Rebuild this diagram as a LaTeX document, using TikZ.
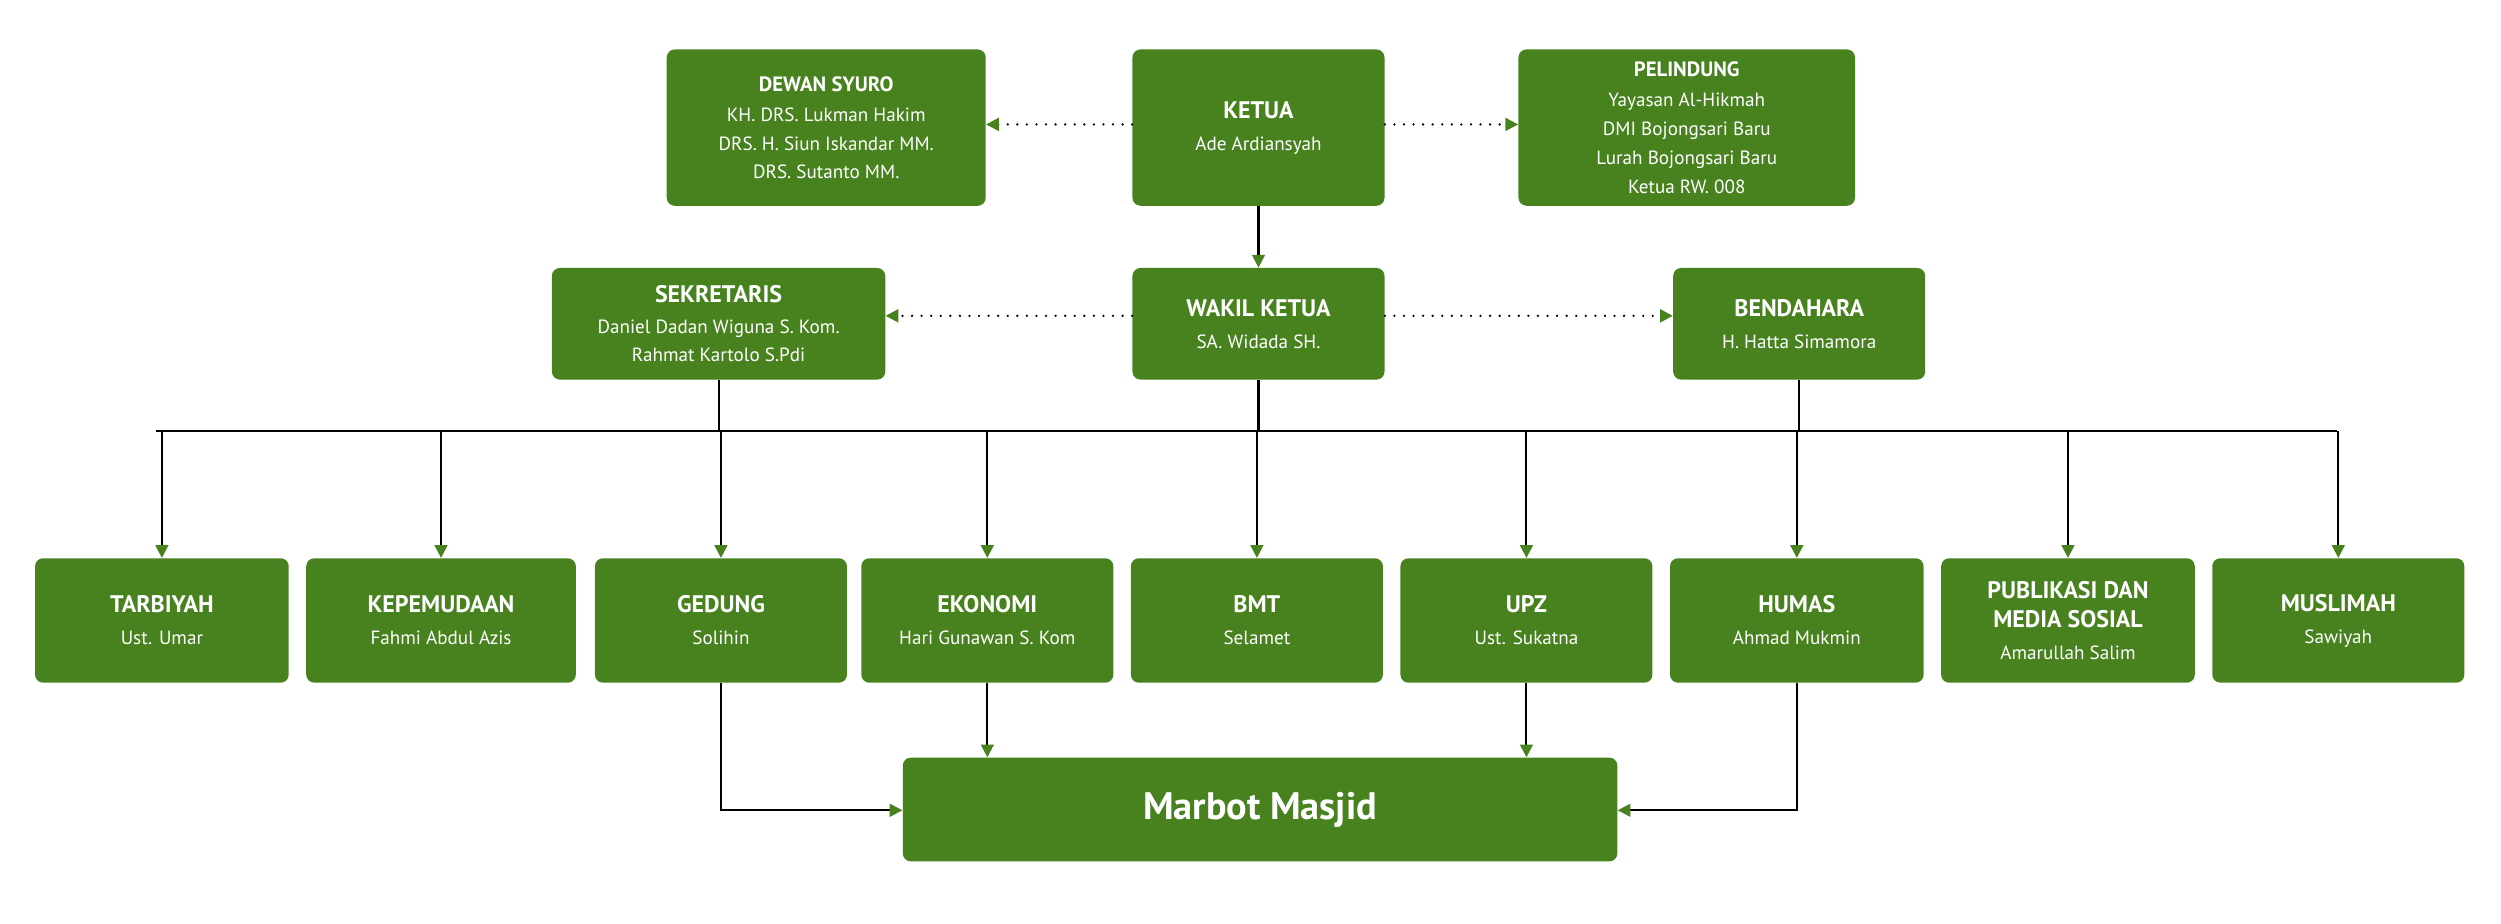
\documentclass[tikz,border=0pt]{standalone}
\usepackage{fontspec}
\setmainfont{PT Sans}
\usetikzlibrary{arrows.meta}
\definecolor{g}{HTML}{48821F}
\newcommand{\mybox}[7]{\node[box,minimum width={(#4-#2)*1pt},minimum height={(#5-#3)*1pt},font=\bfseries\fontsize{#7}{18}\selectfont] (#1) at ({(#2+#4)/2},{(#3+#5)/2}) {#6};}
\newcommand{\sm}{\mdseries\fontsize{12}{16}\selectfont}
\begin{document}
\begin{tikzpicture}[x=1pt,y=-1pt,
 box/.style={fill=g,rounded corners=5pt,text=white,align=center,inner sep=0pt},
 arr/.style={line width=1.3pt,-{Triangle[length=8pt,width=8pt,color=g]}},
 dot/.style={line width=1.6pt,dash pattern=on 0pt off 6pt,line cap=round,-{Triangle[length=8pt,width=8pt,color=g,line cap=butt]}}]
\useasboundingbox (0,0) rectangle (1568,579);
\mybox{ds}{418}{31}{618}{129}{DEWAN SYURO\\[1pt]\sm KH. DRS. Lukman Hakim\\\sm DRS. H. Siun Iskandar MM.\\\sm DRS. Sutanto MM.}{13}
\mybox{ke}{710}{31}{868}{129}{KETUA\\[2pt]\sm Ade Ardiansyah}{15}
\mybox{pl}{952}{31}{1163}{129}{PELINDUNG\\[1pt]\sm Yayasan Al-Hikmah\\\sm DMI Bojongsari Baru\\\sm Lurah Bojongsari Baru\\\sm Ketua RW. 008}{13}
\mybox{se}{346}{168}{555}{238}{SEKRETARIS\\[1pt]\sm Daniel Dadan Wiguna S. Kom.\\\sm Rahmat Kartolo S.Pdi}{15}
\mybox{wk}{710}{168}{868}{238}{WAKIL KETUA\\[2pt]\sm SA. Widada SH.}{15}
\mybox{be}{1049}{168}{1207}{238}{BENDAHARA\\[2pt]\sm H. Hatta Simamora}{15}
\mybox{b1}{22}{350}{181}{428}{TARBIYAH\\[2pt]\sm Ust. Umar}{15}
\mybox{b2}{192}{350}{361}{428}{KEPEMUDAAN\\[2pt]\sm Fahmi Abdul Azis}{15}
\mybox{b3}{373}{350}{531}{428}{GEDUNG\\[2pt]\sm Solihin}{15}
\mybox{b4}{540}{350}{698}{428}{EKONOMI\\[2pt]\sm Hari Gunawan S. Kom}{15}
\mybox{b5}{709}{350}{867}{428}{BMT\\[2pt]\sm Selamet}{15}
\mybox{b6}{878}{350}{1036}{428}{UPZ\\[2pt]\sm Ust. Sukatna}{15}
\mybox{b7}{1047}{350}{1206}{428}{HUMAS\\[2pt]\sm Ahmad Mukmin}{15}
\mybox{b8}{1217}{350}{1376}{428}{PUBLIKASI DAN\\ MEDIA SOSIAL\\[2pt]\sm Amarullah Salim}{15}
\mybox{b9}{1387}{350}{1545}{428}{MUSLIMAH\\[2pt]\sm Sawiyah}{15}
\mybox{mm}{566}{475}{1014}{540}{Marbot Masjid}{24}
\coordinate (yA) at (0,78); \coordinate (yB) at (0,198); \coordinate (yC) at (0,508);
\draw[dot] (ke.west|-yA) -- (ds.east|-yA);
\draw[dot] (ke.east|-yA) -- (pl.west|-yA);
\draw[dot] (wk.west|-yB) -- (se.east|-yB);
\draw[dot] (wk.east|-yB) -- (be.west|-yB);
\draw[arr] (ke) -- (wk);
\coordinate (busL) at (98,270); \coordinate (busR) at (1465,270);
\draw[line width=1.3pt] (busL) -- (busR);
\draw[line width=1.3pt] (se.south) -- (se.south|-busL);
\draw[line width=1.3pt] (be.south) -- (be.south|-busL);
\draw[line width=1.3pt] (wk.south) -- (wk.south|-busL);
\foreach \n in {b1,b2,b3,b4,b5,b6,b7,b8,b9}
 \draw[arr] (\n.north|-busL) -- (\n.north);
\draw[arr] (b3.south) |- (mm.west|-yC);
\draw[arr] (b7.south) |- (mm.east|-yC);
\draw[arr] (b4.south) -- (b4.south|-mm.north);
\draw[arr] (b6.south) -- (b6.south|-mm.north);
\end{tikzpicture}
\end{document}
